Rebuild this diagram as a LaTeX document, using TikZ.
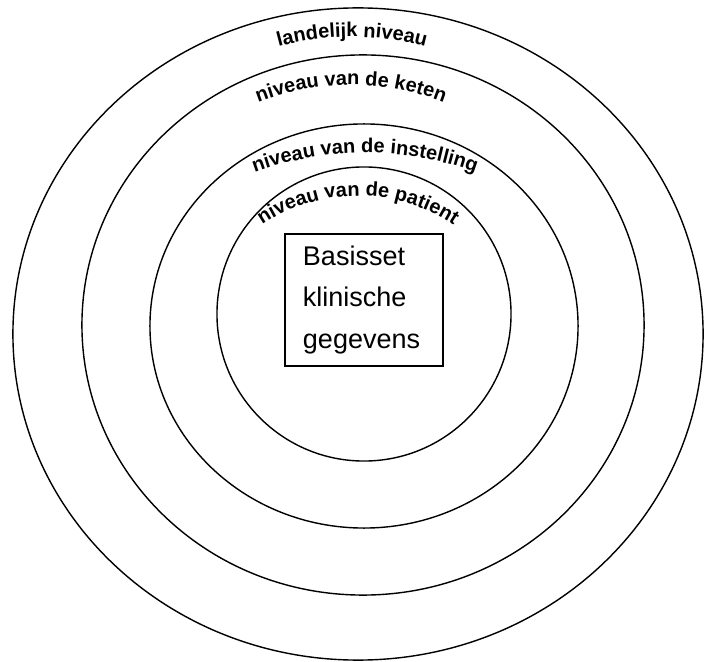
\documentclass[tikz,border=0pt]{standalone}
\usepackage{fontspec}
\setmainfont{Liberation Sans}
\usetikzlibrary{decorations.text}
\newcommand\boogfont{\fontsize{14.2}{17}\selectfont\bfseries}

\begin{document}
\begin{tikzpicture}[
    x=0.025cm, y=-0.025cm,
    ring/.style={draw, line width=1pt},
    kern/.style={draw, line width=1pt, minimum width=3.95cm, minimum height=3.3cm,
                 inner xsep=0.45cm, text width=3.05cm, align=left,
                 font=\fontsize{19.2}{29.3}\selectfont},
    boog/.style={decorate, decoration={text along path, text align=center,
                 text={|\boogfont|#1}}}
]
\useasboundingbox (0,0) rectangle (704,662);
\coordinate (m1) at (358,334);
\coordinate (m2) at (363,325);
\coordinate (m3) at (364,326);
\coordinate (m4) at (364,314);
\draw[ring] (m1) ellipse[x radius=8.625cm, y radius=8.15cm];
\draw[ring] (m2) ellipse[x radius=7.025cm, y radius=6.75cm];
\draw[ring] (m3) ellipse[x radius=5.35cm, y radius=5.05cm];
\draw[ring] (m4) circle[radius=3.675cm];
\node[kern] (basis) at (364,300) {Basisset\\klinische\\gegevens};
\coordinate (b1) at (352,317);
\coordinate (b2) at (351,341);
\coordinate (b3) at (365,473);
\coordinate (b4) at (358,368);
\path[boog={landelijk niveau}] (b1) ++(125:7cm) arc[start angle=125, end angle=55, radius=7cm];
\path[boog={niveau van de keten}] (b2) ++(130:6.4cm) arc[start angle=130, end angle=50, radius=6.4cm];
\path[boog={niveau van de instelling}] (b3) ++(125:8cm) arc[start angle=125, end angle=55, radius=8cm];
\path[boog={niveau van de patient}] (b4) ++(150:4.3cm) arc[start angle=150, end angle=30, radius=4.3cm];
\end{tikzpicture}
\end{document}
